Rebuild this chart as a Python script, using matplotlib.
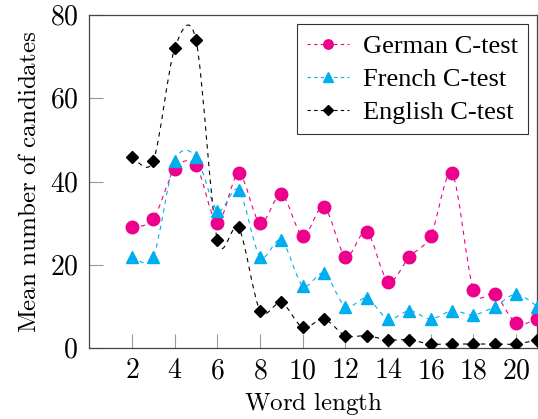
import matplotlib
matplotlib.use('Agg')
import matplotlib.pyplot as plt
import numpy as np
from matplotlib.path import Path
from matplotlib.patches import PathPatch
from matplotlib.lines import Line2D

plt.rcParams['font.family'] = ['Liberation Serif', 'DejaVu Serif']
plt.rcParams['mathtext.fontset'] = 'cm'

word_length = list(range(2, 22))
german = [29, 31, 43, 44, 30, 42, 30, 37, 27, 34, 22, 28, 16, 22, 27, 42, 14, 13, 6, 7]
french = [22, 22, 45, 46, 33, 38, 22, 26, 15, 18, 10, 12, 7, 9, 7, 9, 8, 10, 13, 10]
english = [46, 45, 72, 74, 26, 29, 9, 11, 5, 7, 3, 3, 2, 2, 1, 1, 1, 1, 1, 2]

series = [
    ('German C-test', german, '#ec008c', 'o', 9),
    ('French C-test', french, '#00aeef', '^', 9),
    ('English C-test', english, 'black', 'D', 6.5),
]


def smooth_path(x, y, tension=0.55):
    # tikz-like "smooth" curve: cubic bezier with tangents from neighbours
    pts = np.column_stack([x, y]).astype(float)
    k = 0.2775 * tension
    verts = [pts[0]]
    codes = [Path.MOVETO]
    n = len(pts)
    for i in range(n - 1):
        p0 = pts[i - 1] if i > 0 else pts[i]
        p1 = pts[i]
        p2 = pts[i + 1]
        p3 = pts[i + 2] if i + 2 < n else pts[i + 1]
        c1 = p1 + k * (p2 - p0)
        c2 = p2 - k * (p3 - p1)
        verts += [c1, c2, p2]
        codes += [Path.CURVE4] * 3
    return Path(verts, codes)


fig = plt.figure(figsize=(5.38, 4.19), dpi=100)
ax = fig.add_axes([0.166, 0.169, 0.833, 0.795])

handles = []
for label, vals, col, mk, ms in series:
    p = smooth_path(word_length, vals)
    ax.add_patch(PathPatch(p, facecolor='none', edgecolor=col, lw=0.8,
                           linestyle=(0, (4, 4)), clip_on=True))
    ax.plot(word_length, vals, linestyle='none', marker=mk, color=col,
            markersize=ms, clip_on=True, zorder=3)
    handles.append(Line2D([0], [0], color=col, lw=0.8, linestyle=(0, (3, 3)),
                          marker=mk, markersize=ms * 0.75))

ax.set_xlim(0, 21)
ax.set_ylim(0, 80)
xt = list(range(2, 21, 2))
yt = list(range(0, 81, 20))
ax.set_xticks(xt)
ax.set_xticklabels([f'${v}$' for v in xt])
ax.set_yticks(yt)
ax.set_yticklabels([f'${v}$' for v in yt])
ax.tick_params(direction='in', length=10, width=0.8, color='#999999',
               labelsize=20, pad=8)
for s in ax.spines.values():
    s.set_linewidth(0.9)
    s.set_color('#444444')

ax.set_xlabel(r'$\mathrm{Word\ length}$', fontsize=18, labelpad=4)
ax.set_ylabel(r'$\mathrm{Mean\ number\ of\ candidates}$', fontsize=18, labelpad=6)

leg = ax.legend(handles, [s[0] for s in series], loc='upper right',
                fontsize=19, frameon=True, fancybox=False, edgecolor='black',
                handlelength=1.6, borderaxespad=0.35, labelspacing=0.35,
                handletextpad=0.5, borderpad=0.4)
leg.get_frame().set_linewidth(0.8)

fig.savefig('out.png', dpi=100)
